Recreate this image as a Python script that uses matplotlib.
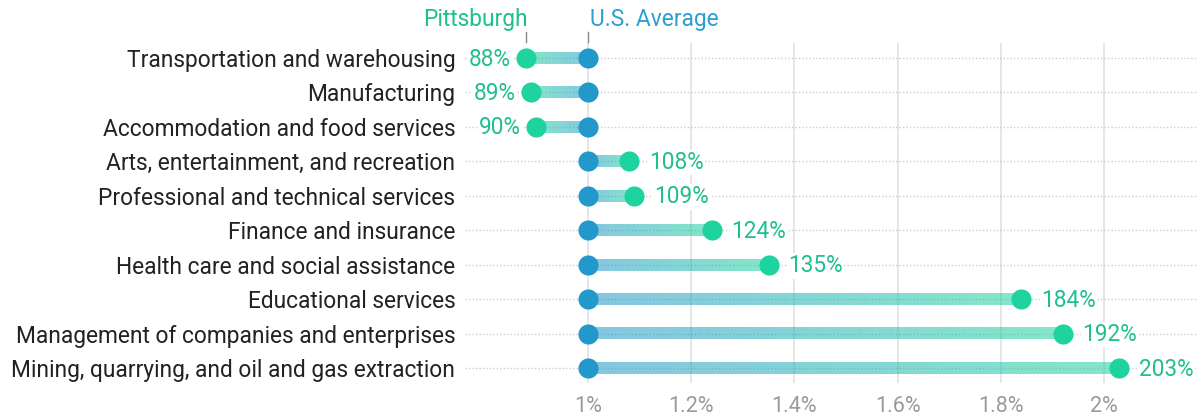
import numpy as np
import matplotlib
matplotlib.use("Agg")
import matplotlib.pyplot as plt
from matplotlib.colors import to_rgb

plt.rcParams['font.family'] = ['Roboto', 'DejaVu Sans']

industries = [
    "Transportation and warehousing",
    "Manufacturing",
    "Accommodation and food services",
    "Arts, entertainment, and recreation",
    "Professional and technical services",
    "Finance and insurance",
    "Health care and social assistance",
    "Educational services",
    "Management of companies and enterprises",
    "Mining, quarrying, and oil and gas extraction",
]
pittsburgh = [0.88, 0.89, 0.90, 1.08, 1.09, 1.24, 1.35, 1.84, 1.92, 2.03]
us_average = [1.0] * len(industries)
tick_values = [1.0, 1.2, 1.4, 1.6, 1.8, 2.0]
tick_labels = ["1%", "1.2%", "1.4%", "1.6%", "1.8%", "2%"]

GREEN = "#1ed39d"
GREEN_TEXT = "#1fbf8f"
BLUE = "#2298cb"
BLUE_TEXT = "#2a9fd3"

W, H = 1197, 419
fig = plt.figure(figsize=(W / 100, H / 100), dpi=100)
ax = fig.add_axes([465 / W, 1 - 383 / H, (W - 465) / W, (383 - 43) / H])

xmin = 1 + (465 - 588) / 516
xmax = 1 + (W - 588) / 516
n = len(industries)
step = 34.44
ytop = 0 - (58 - 43) / step
ybot = (n - 1) + (383 - 368) / step

# vertical grid
for t in tick_values:
    ax.axvline(t, color="#e2e2e2", lw=1.2, zorder=0)
# dotted row guides
for i in range(n):
    ax.axhline(i, color="#cdcdcd", lw=1, ls=(0, (1, 1.5)), zorder=1)

# gradient bars between U.S. average and Pittsburgh
bh = 0.17
cb = np.array(to_rgb(BLUE))
cg = np.array(to_rgb(GREEN))
for i, (p, u) in enumerate(zip(pittsburgh, us_average)):
    lo, hi = min(p, u), max(p, u)
    t = np.linspace(0, 1, 256)
    if p >= u:
        cols = cb[None, :] * (1 - t[:, None]) + cg[None, :] * t[:, None]
    else:
        cols = cg[None, :] * (1 - t[:, None]) + cb[None, :] * t[:, None]
    img = np.concatenate([cols, np.full((256, 1), 0.55)], axis=1)[None, :, :]
    ax.imshow(img, extent=[lo, hi, i + bh, i - bh], aspect="auto",
              interpolation="bilinear", zorder=2)

ax.scatter(us_average, range(n), s=210, color=BLUE, zorder=4, linewidths=0)
ax.scatter(pittsburgh, range(n), s=210, color=GREEN, zorder=4, linewidths=0)

for i, p in enumerate(pittsburgh):
    label = f"{round(p * 100):d}%"
    if p < 1:
        ax.text(p - 0.03, i + 0.03, label, ha="right", va="center", fontsize=16.3,
                color=GREEN_TEXT, zorder=3,
                bbox=dict(facecolor="white", edgecolor="none", pad=1))
    else:
        ax.text(p + 0.038, i + 0.03, label, ha="left", va="center", fontsize=16.3,
                color=GREEN_TEXT, zorder=3,
                bbox=dict(facecolor="white", edgecolor="none", pad=1))

ax.set_xlim(xmin, xmax)
ax.set_ylim(ybot, ytop)
ax.set_yticks(range(n))
ax.set_yticklabels(industries, fontsize=16.4, color="#222222")
ax.set_xticks(tick_values)
ax.set_xticklabels(tick_labels, fontsize=15.5, color="#9a9a9a")
ax.tick_params(axis="both", length=0)
ax.tick_params(axis="x", pad=9)
ax.tick_params(axis="y", pad=7)
for s in ax.spines.values():
    s.set_visible(False)

# series headers
y_head = ytop - 0.68
ax.plot([pittsburgh[0]] * 2, [ytop - 0.02, ytop - 0.32], color="#888888", lw=1,
        clip_on=False)
ax.plot([us_average[0]] * 2, [ytop - 0.02, ytop - 0.32], color="#888888", lw=1,
        clip_on=False)
ax.text(pittsburgh[0] + 0.003, y_head, "Pittsburgh", ha="right", va="center",
        fontsize=16.4, color=GREEN_TEXT, clip_on=False)
ax.text(us_average[0] + 0.003, y_head, "U.S. Average", ha="left", va="center",
        fontsize=16.4, color=BLUE_TEXT, clip_on=False)

fig.savefig("out.png", dpi=100)
